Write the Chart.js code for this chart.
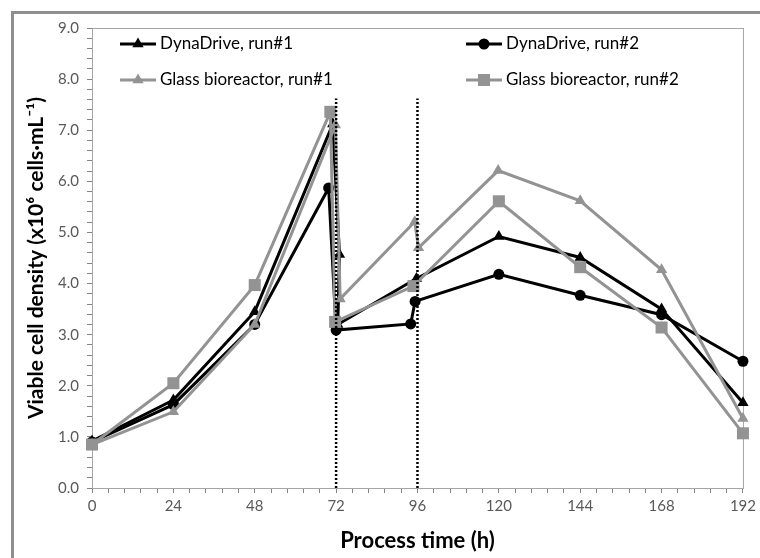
<!DOCTYPE html>
<html>
<head>
<meta charset="utf-8">
<script src="https://cdn.jsdelivr.net/npm/chart.js@4.4.1/dist/chart.umd.min.js"></script>
<style>
    body { margin: 0; background: #ffffff; }
    #wrap { position: relative; width: 760px; height: 558px; overflow: hidden; }
    #frame { position: absolute; left: 11px; top: 11px; width: 800px; height: 600px;
             border-left: 3px solid #8f8f8f; border-top: 3px solid #8f8f8f; }
    #chart { position: absolute; left: 0; top: 0; }
</style>
</head>
<body>
<div id="wrap">
    <div id="frame"></div>
    <canvas id="chart" width="760" height="558"></canvas>
</div>
<script>
// process time (h) and viable cell density (x10^6 cells/mL) per run
const dyna1Time = [0, 24, 48, 71, 73, 72.5, 95.7, 120, 144, 168, 192];
const dyna1Vcd = [0.92, 1.72, 3.45, 7.12, 4.57, 3.2, 4.1, 4.92, 4.51, 3.5, 1.67];

const dyna2Time = [0, 24, 48, 69.8, 72, 94, 95.3, 120, 144, 168, 192];
const dyna2Vcd = [0.9, 1.63, 3.2, 5.87, 3.09, 3.21, 3.65, 4.18, 3.77, 3.39, 2.48];

const glass1Time = [0, 24, 48, 71.8, 73.2, 95.2, 96.3, 119.8, 144, 168, 192];
const glass1Vcd = [0.85, 1.49, 3.2, 7.1, 3.7, 5.21, 4.7, 6.21, 5.62, 4.27, 1.36];

const glass2Time = [0, 24, 48, 70.3, 71.7, 94.8, 120, 144, 168, 192];
const glass2Vcd = [0.85, 2.05, 3.97, 7.36, 3.25, 3.95, 5.61, 4.32, 3.14, 1.07];

const seriesNames = ["DynaDrive, run#1", "DynaDrive, run#2", "Glass bioreactor, run#1", "Glass bioreactor, run#2"];

// dotted markers at the feeding times
const feedTimes = [72, 96];
const feedTop = 7.62;

const BLACK = "#000000";
const GREY = "#939393";
const FONT = "Lato, 'Open Sans', sans-serif";

function points(xs, ys) {
    return xs.map((x, i) => ({ x: x, y: ys[i] }));
}

function series(label, xs, ys, color, style, radius, order) {
    return {
        label: label,
        data: points(xs, ys),
        showLine: true,
        borderColor: color,
        backgroundColor: color,
        borderWidth: 3,
        pointStyle: style,
        pointRadius: radius,
        pointHoverRadius: radius,
        pointBorderWidth: 0,
        clip: false,
        order: order
    };
}

const datasets = [
    series(seriesNames[0], dyna1Time, dyna1Vcd, BLACK, "triangle", 6.5, 4),
    series(seriesNames[1], dyna2Time, dyna2Vcd, BLACK, "circle", 5.5, 3),
    series(seriesNames[2], glass1Time, glass1Vcd, GREY, "triangle", 6.5, 2),
    series(seriesNames[3], glass2Time, glass2Vcd, GREY, "rect", 8.5, 1)
];

feedTimes.forEach((t) => {
    datasets.push({
        label: "feed " + t,
        data: [{ x: t, y: 0 }, { x: t, y: feedTop }],
        showLine: true,
        borderColor: BLACK,
        borderWidth: 2.5,
        borderDash: [2, 2],
        pointRadius: 0,
        clip: false,
        order: 0
    });
});

// plot area frame
const plotFrame = {
    id: "plotFrame",
    beforeDatasetsDraw(chart) {
        const a = chart.chartArea;
        const ctx = chart.ctx;
        ctx.save();
        ctx.strokeStyle = "#a6a6a6";
        ctx.lineWidth = 1;
        ctx.strokeRect(a.left + 0.5, a.top + 0.5, a.right - a.left, a.bottom - a.top);
        ctx.restore();
    }
};

// legend with line + marker samples, two columns
const lineLegend = {
    id: "lineLegend",
    afterDraw(chart) {
        const ctx = chart.ctx;
        const cols = [120, 466];
        const rows = [44, 80];
        ctx.save();
        chart.data.datasets.slice(0, 4).forEach((ds, i) => {
            const x = cols[i % 2];
            const y = rows[Math.floor(i / 2)];
            ctx.strokeStyle = ds.borderColor;
            ctx.lineWidth = 3;
            ctx.beginPath();
            ctx.moveTo(x, y);
            ctx.lineTo(x + 36, y);
            ctx.stroke();
            ctx.fillStyle = ds.backgroundColor;
            Chart.helpers.drawPoint(ctx, {
                pointStyle: ds.pointStyle,
                radius: ds.pointRadius,
                borderWidth: 0
            }, x + 18, y);
            ctx.fillStyle = "#000000";
            ctx.font = "17px " + FONT;
            ctx.textBaseline = "middle";
            ctx.textAlign = "left";
            ctx.fillText(ds.label, x + 40, y);
        });
        ctx.restore();
    }
};

new Chart(document.getElementById("chart"), {
    type: "scatter",
    data: { datasets: datasets },
    plugins: [plotFrame, lineLegend],
    options: {
        responsive: false,
        animation: false,
        layout: { padding: { left: 0, top: 28, right: 14, bottom: 0 } },
        plugins: {
            legend: { display: false },
            tooltip: { enabled: false }
        },
        scales: {
            x: {
                type: "linear",
                min: 0,
                max: 192,
                afterFit: (s) => { s.height = 70; },
                ticks: {
                    stepSize: 4.8,
                    autoSkip: false,
                    maxRotation: 0,
                    padding: 4,
                    color: "#595959",
                    font: { family: FONT, size: 15 },
                    callback: (v) => (Math.abs(v % 24) < 1e-6 ? String(Math.round(v)) : "")
                },
                grid: { drawOnChartArea: false, tickLength: 5, color: "#868686" },
                border: { color: "#868686" },
                title: {
                    display: true,
                    text: "Process time (h)",
                    color: "#000000",
                    font: { family: FONT, size: 22, weight: "bold" },
                    padding: { top: 5 }
                }
            },
            y: {
                min: 0,
                max: 9,
                afterFit: (s) => { s.width = 92; },
                ticks: {
                    stepSize: 0.2,
                    autoSkip: false,
                    padding: 8,
                    color: "#595959",
                    font: { family: FONT, size: 15 },
                    callback: (v) => (Math.abs(v - Math.round(v)) < 1e-6 ? v.toFixed(1) : "")
                },
                grid: { drawOnChartArea: false, tickLength: 5, color: "#868686" },
                border: { color: "#868686" },
                title: {
                    display: true,
                    text: "Viable cell density (x10\u2076 cells\u00b7mL\u207b\u00b9)",
                    color: "#000000",
                    font: { family: FONT, size: 21, weight: "bold" },
                    padding: { top: 24, bottom: 0 }
                }
            }
        }
    }
});
</script>
</body>
</html>
